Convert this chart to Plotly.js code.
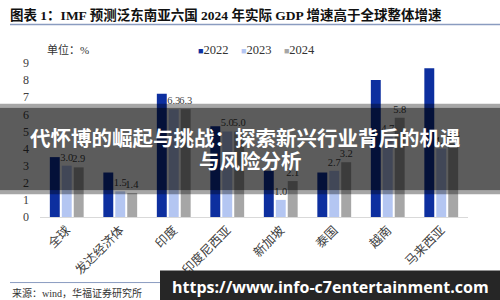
<!DOCTYPE html>
<html>
<head>
<meta charset="utf-8">
<script src="https://cdn.plot.ly/plotly-3.0.1.min.js"></script>
<style>html,body{margin:0;padding:0;background:#fff;}#chart{width:500px;height:300px;}</style>
</head>
<body>
<div id="chart"></div>
<script>
const categories = ['全球','发达经济体','印度','印度尼西亚','新加坡','泰国','越南','马来西亚'];
const seriesNames = ['2022','2023','2024'];
const v2022 = [3.5, 2.6, 7.2, 5.3, 2.7, 2.6, 8.0, 8.7];
const v2023 = [3.0, 1.5, 6.3, 5.0, 1.0, 2.7, 4.7, 4.0];
const v2024 = [2.9, 1.4, 6.3, 5.0, 2.1, 3.2, 5.8, 4.3];
const yTicks = [0,1,2,3,4,5,6,7,8,9];
const colors = ['#0d2f9f','#b4c6f2','#a6a6a6'];
const showLabels = [false, true, true];

const W = 500, H = 300;
const M = {l: 40, r: 32, t: 63.3, b: 83.3};
const PW = W - M.l - M.r, PH = H - M.t - M.b;
const px = x => (x - M.l) / PW;
const py = y => (H - M.b - y) / PH;

const serif = 'Liberation Serif, "Noto Sans CJK SC", serif';
const values = [v2022, v2023, v2024];

const traces = values.map((v, i) => ({
  type: 'bar',
  name: seriesNames[i],
  x: categories,
  y: v,
  marker: {color: colors[i]},
  text: showLabels[i] ? v.map(d => d.toFixed(1)) : undefined,
  textposition: showLabels[i] ? 'outside' : 'none',
  constraintext: 'none',
  cliponaxis: false,
  textfont: {family: serif, size: 10.5, color: '#404040'},
  hoverinfo: 'none'
}));

const NB = '\u00a0';
const legendText = seriesNames.map((n, i) =>
  `<span style="color:${colors[i]};font-size:9px">■</span>${n}`).join(NB.repeat(4));

const lineColor = '#8a9cc0';

const layout = {
  width: W, height: H,
  margin: M,
  paper_bgcolor: '#fff', plot_bgcolor: '#fff',
  showlegend: false,
  barmode: 'group',
  bargap: 0.33,
  bargroupgap: 0.17,
  title: {
    text: '图表 1：IMF 预测泛东南亚六国 2024 年实际 GDP 增速高于全球整体增速',
    font: {family: serif, size: 13.5, color: '#111', weight: 'bold'},
    xref: 'container', yref: 'container',
    x: 10 / W, xanchor: 'left',
    y: 1 - 15 / H, yanchor: 'middle',
    pad: {t: 0, b: 0, l: 0, r: 0}
  },
  xaxis: {
    type: 'category',
    tickangle: -45,
    tickfont: {family: serif, size: 12.5, color: '#404040'},
    showline: true, linecolor: '#d9d9d9', linewidth: 1,
    ticks: '', showgrid: false, zeroline: false, fixedrange: true
  },
  yaxis: {
    range: [0, 9],
    tickvals: yTicks,
    tickfont: {family: serif, size: 12, color: '#404040'},
    ticklabelstandoff: 10,
    showgrid: false, zeroline: false, showline: false, ticks: '', fixedrange: true
  },
  shapes: [
    {type: 'line', xref: 'paper', yref: 'paper', x0: px(10), x1: px(500), y0: py(25), y1: py(25),
     line: {color: lineColor, width: 1.5}},
    {type: 'line', xref: 'paper', yref: 'paper', x0: px(10), x1: px(500), y0: py(282), y1: py(282),
     line: {color: lineColor, width: 1}},
    {type: 'rect', xref: 'paper', yref: 'paper', x0: px(0), x1: px(500), y0: py(104), y1: py(108),
     fillcolor: 'rgba(0,0,0,0.35)', line: {width: 0}, layer: 'above'},
    {type: 'rect', xref: 'paper', yref: 'paper', x0: px(0), x1: px(500), y0: py(108), y1: py(190),
     fillcolor: 'rgba(0,0,0,0.64)', line: {width: 0}, layer: 'above'},
    {type: 'rect', xref: 'paper', yref: 'paper', x0: px(0), x1: px(500), y0: py(190), y1: py(194),
     fillcolor: 'rgba(0,0,0,0.35)', line: {width: 0}, layer: 'above'},
    {type: 'rect', xref: 'paper', yref: 'paper', x0: px(160), x1: px(500), y0: py(270), y1: py(300),
     fillcolor: '#262626', line: {width: 0}, layer: 'above'}
  ],
  annotations: [
    {text: '单位：%', xref: 'paper', yref: 'paper', x: px(45), y: py(50), xanchor: 'left', yanchor: 'middle',
     showarrow: false, font: {family: serif, size: 11, color: '#333'}},
    {text: legendText, xref: 'paper', yref: 'paper', x: px(196), y: py(50), xanchor: 'left', yanchor: 'middle',
     showarrow: false, font: {family: serif, size: 12.5, color: '#333'}},
    {text: '来源：wind，华福证券研究所', xref: 'paper', yref: 'paper', x: px(10), y: py(292), xanchor: 'left', yanchor: 'middle',
     showarrow: false, font: {family: serif, size: 10, color: '#333'}},
    {text: '代怀博的崛起与挑战：探索新兴行业背后的机遇', xref: 'paper', yref: 'paper', x: px(245), y: py(137),
     xanchor: 'center', yanchor: 'middle', showarrow: false,
     font: {family: '"Noto Sans CJK SC", sans-serif', size: 20.5, color: '#fff', weight: 'bold'}},
    {text: '与风险分析', xref: 'paper', yref: 'paper', x: px(250), y: py(160),
     xanchor: 'center', yanchor: 'middle', showarrow: false,
     font: {family: '"Noto Sans CJK SC", sans-serif', size: 20.5, color: '#fff', weight: 'bold'}},
    {text: 'https://www.info-c7entertainment.com', xref: 'paper', yref: 'paper', x: px(330), y: py(286),
     xanchor: 'center', yanchor: 'middle', showarrow: false,
     font: {family: '"Open Sans", sans-serif', size: 16, color: '#fff', weight: 'bold'}}
  ]
};

Plotly.newPlot('chart', traces, layout, {staticPlot: true, displayModeBar: false});
</script>
</body>
</html>
